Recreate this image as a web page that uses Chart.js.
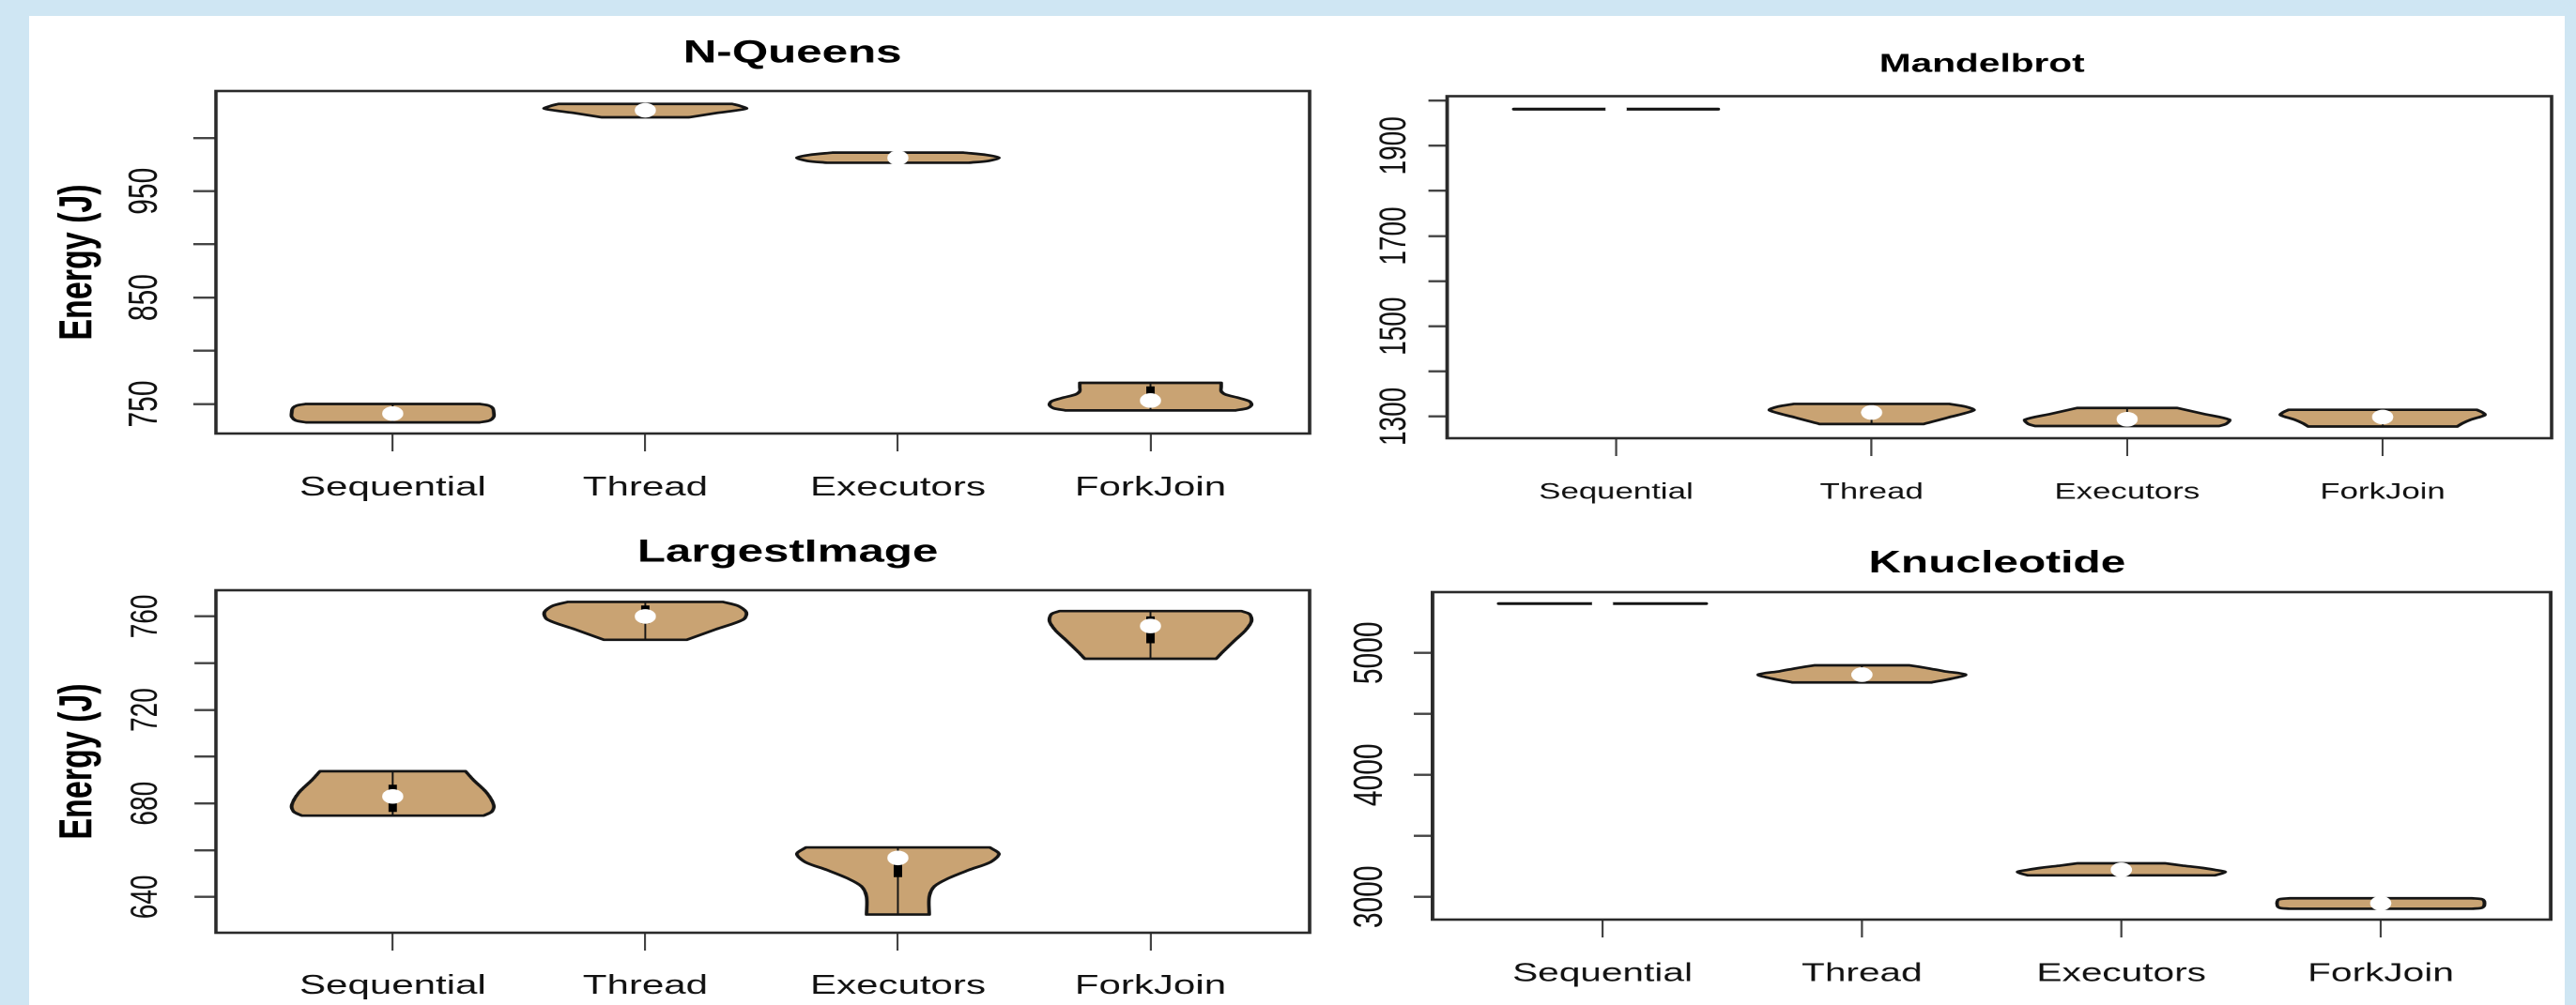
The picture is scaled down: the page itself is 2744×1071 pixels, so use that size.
<!DOCTYPE html>
<html>
<head>
<meta charset="utf-8">
<title>Energy violins</title>
<script src="https://cdn.jsdelivr.net/npm/chart.js@4.4.1/dist/chart.umd.min.js"></script>
<style>
  html, body { margin: 0; padding: 0; width: 2744px; height: 1071px; overflow: hidden; background: #cfe6f3; }
  #sheet { position: absolute; left: 31px; top: 17px; width: 2701px; height: 1054px; background: #fff; }
  .panel { position: absolute; transform-origin: 0 0; }
  .panel canvas { display: block; }
</style>
</head>
<body>
<div id="sheet"></div>
<div class="panel" id="p-nq"><canvas id="c-nq"></canvas></div>
<div class="panel" id="p-mb"><canvas id="c-mb"></canvas></div>
<div class="panel" id="p-li"><canvas id="c-li"></canvas></div>
<div class="panel" id="p-kn"><canvas id="c-kn"></canvas></div>
<script>
const categories = ["Sequential", "Thread", "Executors", "ForkJoin"];

// N-Queens: energy levels (bottom to top) and relative violin widths at each level
const nqLevels = [
  [732.7, 734.5, 738, 742, 746, 748.5, 750],
  [1019.4, 1023.5, 1027.6, 1030.3, 1032],
  [976.7, 978.5, 981.3, 984, 986.2],
  [743.9, 746, 749, 752.5, 756, 759, 762, 766, 769.8]
];
const nqWidths = [
  [0.86, 0.96, 1.0, 1.0, 0.99, 0.95, 0.86],
  [0.43, 0.71, 1.0, 0.93, 0.86],
  [0.7, 0.9, 1.0, 0.88, 0.65],
  [0.84, 0.96, 1.0, 0.98, 0.86, 0.74, 0.7, 0.7, 0.7]
];
const nqMedian = [740.9, 1026, 981.3, 753.2];
const nqBox = [[739.5, 742.5], [1025, 1027.5], [980.5, 982], [753.2, 766.5]];
const nqTicks = [750, 800, 850, 900, 950, 1000];
const nqTickLabels = ["750", "", "850", "", "950", ""];
const nqYRange = [722.2, 1044.1];

// Mandelbrot
const mbLevels = [
  [1980.6, 1981.4],
  [1283.5, 1298, 1314, 1322, 1328],
  [1279, 1284, 1293, 1306, 1319],
  [1278, 1285, 1293, 1303.5, 1310, 1315]
];
const mbWidths = [
  [1.0, 1.0],
  [0.51, 0.75, 1.0, 0.92, 0.76],
  [0.9, 0.97, 1.0, 0.745, 0.49],
  [0.73, 0.78, 0.86, 1.0, 0.97, 0.92]
];
const mbMedian = [1981, 1309, 1294, 1299];
const mbBox = [[1981, 1981], [1307, 1311], [1292, 1296], [1297, 1301]];
const mbTicks = [1300, 1400, 1500, 1600, 1700, 1800, 1900, 2000];
const mbTickLabels = ["1300", "", "1500", "", "1700", "", "1900", ""];
const mbYRange = [1252, 2009.8];

// LargestImage
const liLevels = [
  [674.8, 676.5, 679.2, 684.6, 690, 693.8],
  [750.0, 754.5, 758.7, 761.7, 764.5, 766.2],
  [632.5, 640, 644.5, 648, 651.5, 655, 658.5, 661.2],
  [741.9, 745, 750, 754, 758, 761, 762.3]
];
const liWidths = [
  [0.9, 0.98, 1.0, 0.93, 0.8, 0.72],
  [0.41, 0.7, 0.97, 1.0, 0.92, 0.77],
  [0.31, 0.31, 0.36, 0.5, 0.7, 0.92, 1.0, 0.91],
  [0.65, 0.72, 0.84, 0.94, 1.0, 0.98, 0.9]
];
const liMedian = [683, 760, 656.7, 755.9];
const liBox = [[676.4, 688], [757, 764.7], [648.5, 659.4], [748.5, 760]];
const liTicks = [640, 660, 680, 700, 720, 740, 760];
const liTickLabels = ["640", "", "680", "", "720", "", "760"];
const liYRange = [624.7, 771.2];

// Knucleotide
const knLevels = [
  [5403, 5404.5],
  [4757.7, 4790, 4821.5, 4850, 4875, 4898],
  [3177, 3192, 3206, 3222, 3238, 3258, 3275.6],
  [2903, 2908, 2918, 2946, 2975, 2984, 2989]
];
const knWidths = [
  [1.0, 1.0],
  [0.67, 0.87, 1.0, 0.79, 0.63, 0.46],
  [0.9, 0.97, 1.0, 0.9, 0.78, 0.58, 0.42],
  [0.88, 0.96, 0.99, 1.0, 0.99, 0.96, 0.88]
];
const knMedian = [5404, 4821.5, 3222, 2948];
const knBox = [[5404, 5404], [4815, 4828], [3215, 3229], [2940, 2956]];
const knTicks = [3000, 3500, 4000, 4500, 5000];
const knTickLabels = ["3000", "", "4000", "", "5000"];
const knYRange = [2814, 5498];

const FILL = "#c9a373";
const INK = "#151515";
const FONT = '"Liberation Sans", Arial, Helvetica, sans-serif';

// page geometry of each panel (the whole picture is stretched sideways by s)
const panels = [
  { key: "nq", title: "N-Queens", yTitle: "Energy (J)",
    levels: nqLevels, widths: nqWidths, median: nqMedian, box: nqBox,
    ticks: nqTicks, tickLabels: nqTickLabels, yRange: nqYRange, xRange: [0.30, 4.63],
    g: { L: 35, R: 1653, T: 17, H: 545, s: 1.45, areaL: 230, areaR: 1395, areaT: 97, areaB: 462,
         titleY: 57, titleSize: 34, yTickLen: 24, yLabelX: 155, yLabelSize: 30, yTitleX: 84,
         xTickLen: 19, xLabelY: 520, xLabelSize: 29 } },
  { key: "mb", title: "Mandelbrot", yTitle: null,
    levels: mbLevels, widths: mbWidths, median: mbMedian, box: mbBox,
    ticks: mbTicks, tickLabels: mbTickLabels, yRange: mbYRange, xRange: [0.339, 4.661],
    g: { L: 1450, R: 2772, T: 30, H: 530, s: 1.45, areaL: 1541.5, areaR: 2718, areaT: 102.5, areaB: 467,
         titleY: 69, titleSize: 28, yTickLen: 20, yLabelX: 1486, yLabelSize: 28, yTitleX: null,
         xTickLen: 19, xLabelY: 525, xLabelSize: 24 } },
  { key: "li", title: "LargestImage", yTitle: "Energy (J)",
    levels: liLevels, widths: liWidths, median: liMedian, box: liBox,
    ticks: liTicks, tickLabels: liTickLabels, yRange: liYRange, xRange: [0.30, 4.63],
    g: { L: 35, R: 1643, T: 545, H: 526, s: 1.45, areaL: 230, areaR: 1395, areaT: 629, areaB: 994,
         titleY: 589, titleSize: 34, yTickLen: 23, yLabelX: 156, yLabelSize: 28, yTitleX: 84,
         xTickLen: 19, xLabelY: 1051, xLabelSize: 29 } },
  { key: "kn", title: "Knucleotide", yTitle: null,
    levels: knLevels, widths: knWidths, median: knMedian, box: knBox,
    ticks: knTicks, tickLabels: knTickLabels, yRange: knYRange, xRange: [0.345, 4.655],
    g: { L: 1440, R: 2814, T: 550, H: 521, s: 1.45, areaL: 1526, areaR: 2717, areaT: 631, areaB: 980,
         titleY: 601, titleSize: 33, yTickLen: 20, yLabelX: 1460, yLabelSize: 30, yTitleX: null,
         xTickLen: 19, xLabelY: 1038, xLabelSize: 28 } }
];

const framePlugin = {
  id: "frame",
  beforeDatasetsDraw(chart) {
    const { ctx, chartArea: a } = chart;
    ctx.save();
    ctx.strokeStyle = "#2a2a2a";
    ctx.lineWidth = 2.6;
    ctx.strokeRect(a.left, a.top, a.right - a.left, a.bottom - a.top);
    ctx.restore();
  }
};

const measureCtx = document.createElement("canvas").getContext("2d");
function textWidth(str, size) {
  measureCtx.font = size + "px " + FONT;
  return measureCtx.measureText(str).width;
}

// outline of one violin: right side going up, left side coming down;
// the corner points are repeated so the flat top and bottom stay straight
function violinPoints(x, levels, widths) {
  const half = 0.4;
  const right = levels.map((v, k) => ({ x: x + half * widths[k], y: v }));
  const left = levels.map((v, k) => ({ x: x - half * widths[k], y: v })).reverse();
  const n = right.length;
  return [right[0], ...right, right[n - 1], left[0], ...left, left[n - 1], right[0]];
}

function buildDatasets(p) {
  const sets = [];
  categories.forEach((c, i) => {
    const x = i + 1;
    const lv = p.levels[i];
    sets.push({
      label: c, order: 3, data: violinPoints(x, lv, p.widths[i]),
      showLine: true, fill: "shape", tension: 0.3,
      backgroundColor: FILL, borderColor: INK, borderWidth: 2.7,
      borderJoinStyle: "round", borderCapStyle: "round", pointRadius: 0
    });
    sets.push({
      label: c + " whisker", order: 2,
      data: [{ x: x, y: lv[0] }, { x: x, y: lv[lv.length - 1] }],
      showLine: true, borderColor: INK, borderWidth: 1.4, pointRadius: 0
    });
    sets.push({
      label: c + " box", order: 1,
      data: [{ x: x, y: p.box[i][0] }, { x: x, y: p.box[i][1] }],
      showLine: true, borderColor: "#000", borderWidth: 6, borderCapStyle: "butt", pointRadius: 0
    });
    sets.push({
      label: c + " median", order: 0,
      data: [{ x: x, y: p.median[i] }],
      pointRadius: 7.8, pointBackgroundColor: "#fff", pointBorderWidth: 0, pointStyle: "circle"
    });
  });
  return sets;
}

function makePanel(p) {
  const g = p.g;
  const W = Math.round((g.R - g.L) / g.s);
  const wrap = document.getElementById("p-" + p.key);
  wrap.style.left = g.L + "px";
  wrap.style.top = g.T + "px";
  wrap.style.width = W + "px";
  wrap.style.height = g.H + "px";
  wrap.style.transform = "scaleX(" + g.s + ")";
  const canvas = document.getElementById("c-" + p.key);
  canvas.width = W;
  canvas.height = g.H;

  const yAxisW = (g.areaL - g.L) / g.s;
  const padW = W - (g.areaR - g.L) / g.s;
  const tLine = g.titleSize * 1.2;
  const tTop = (g.titleY - g.T) - tLine / 2;
  const tBottom = (g.areaT - g.T) - tTop - tLine;
  const xAxisH = g.H - (g.areaB - g.T);
  const xPad = g.xLabelY - (g.areaB + g.xTickLen) - 0.6 * g.xLabelSize;
  const yTick = g.yTickLen / g.s;
  const widest = Math.max(...p.tickLabels.map(t => textWidth(t, g.yLabelSize)));
  const yPad = yAxisW - yTick - widest / 2 - (g.yLabelX - g.L) / g.s;
  const yTitlePad = g.yTitleX ? (g.yTitleX - g.L) / g.s - 34 * 1.2 / 2 : 0;

  new Chart(canvas, {
    type: "scatter",
    data: { datasets: buildDatasets(p) },
    options: {
      responsive: false,
      animation: false,
      devicePixelRatio: 2,
      events: [],
      layout: { padding: 0 },
      plugins: {
        legend: { display: false },
        tooltip: { enabled: false },
        title: {
          display: true, text: p.title, color: "#000",
          font: { size: g.titleSize, weight: "bold" },
          padding: { top: tTop, bottom: tBottom }
        }
      },
      scales: {
        x: {
          type: "linear", position: "bottom", min: p.xRange[0], max: p.xRange[1],
          border: { display: false },
          grid: { drawOnChartArea: false, drawTicks: true, tickLength: g.xTickLen, color: "#444", lineWidth: 1.5 },
          ticks: {
            autoSkip: false, maxRotation: 0, padding: xPad, color: "#111",
            font: { size: g.xLabelSize },
            callback: v => categories[v - 1] || ""
          },
          afterBuildTicks: s => { s.ticks = categories.map((c, i) => ({ value: i + 1 })); },
          afterFit: s => { s.height = xAxisH; }
        },
        y: {
          type: "linear", position: "left", min: p.yRange[0], max: p.yRange[1],
          border: { display: false },
          grid: { drawOnChartArea: false, drawTicks: true, tickLength: yTick, color: "#444", lineWidth: 2.4 },
          ticks: {
            autoSkip: false, minRotation: 90, maxRotation: 90, crossAlign: "center",
            padding: yPad, color: "#111", font: { size: g.yLabelSize },
            callback: (v, i) => p.tickLabels[i]
          },
          title: {
            display: !!p.yTitle, text: p.yTitle || "", color: "#000",
            font: { size: 34, weight: "bold" }, padding: { top: yTitlePad, bottom: 0 }
          },
          afterBuildTicks: s => { s.ticks = p.ticks.map(v => ({ value: v })); },
          afterFit: s => { s.width = yAxisW; }
        },
        pad: {
          type: "linear", position: "right", display: true,
          border: { display: false }, grid: { display: false }, ticks: { display: false },
          afterFit: s => { s.width = padW; }
        }
      }
    },
    plugins: [framePlugin]
  });
}

function run() {
  if (typeof Chart === "undefined") return;
  Chart.defaults.font.family = FONT;
  panels.forEach(makePanel);
}

if (document.readyState === "loading") {
  document.addEventListener("DOMContentLoaded", run);
} else {
  run();
}
</script>
</body>
</html>
